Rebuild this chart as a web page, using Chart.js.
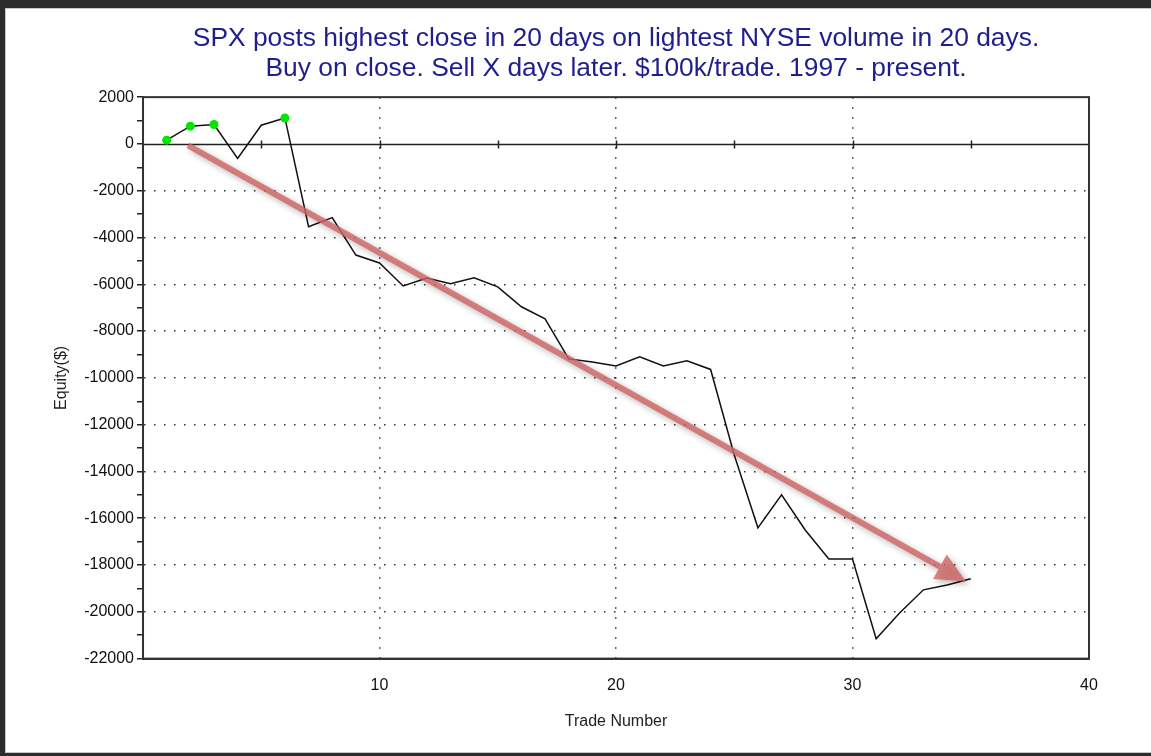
<!DOCTYPE html>
<html>
<head>
<meta charset="utf-8">
<script src="https://cdn.jsdelivr.net/npm/chart.js@4"></script>
<style>
  body { margin: 0; background: #fff; }
  #wrap { width: 1151px; height: 756px; position: relative; }
</style>
</head>
<body>
<div id="wrap"><canvas id="chart1"></canvas></div>
<script>
// trade numbers and cumulative equity ($)
const trades = [1, 2, 3, 4, 5, 6, 7, 8, 9, 10, 11, 12, 13, 14, 15, 16, 17, 18,
  19, 20, 21, 22, 23, 24, 25, 26, 27, 28, 29, 30, 31, 32, 33, 34, 35];
const equity = [160, 760, 830, -620, 800, 1110, -3540, -3150, -4750, -5090,
  -6070, -5730, -5980, -5720, -6110, -6960, -7480, -9190, -9320, -9490,
  -9100, -9490, -9270, -9640, -13300, -16410, -15000, -16500, -17740, -17740,
  -21150, -20040, -19060, -18850, -18590];
// trades marked green (new equity highs)
const newHighs = [1, 2, 3, 6];

const titleLines = [
  'SPX posts highest close in 20 days on lightest NYSE volume in 20 days.',
  'Buy on close. Sell X days later. $100k/trade. 1997 - present.'
];
const xTitle = 'Trade Number';
const yTitle = 'Equity($)';

// trend arrow, in data units [trade, equity]
const arrowFrom = [1.9, -60];
const arrowTo = [34.8, -18700];

const FONT = "'Liberation Sans', Arial, sans-serif";

// white page with dark frame round it
const pageFrame = {
  id: 'pageFrame',
  beforeDraw(chart) {
    const ctx = chart.ctx;
    ctx.save();
    ctx.fillStyle = '#fff';
    ctx.fillRect(0, 0, chart.width, chart.height);
    ctx.restore();
  },
  afterDraw(chart) {
    const ctx = chart.ctx, w = chart.width, h = chart.height;
    ctx.save();
    ctx.fillStyle = '#2c2c2c';
    ctx.fillRect(0, 0, w, 8);
    ctx.fillRect(0, 0, 5, h);
    ctx.fillRect(0, h - 3, w, 3);
    ctx.fillStyle = '#c8c8c8';
    ctx.fillRect(5, 8, w - 5, 1);
    ctx.fillRect(5, 8, 1, h - 11);
    ctx.fillRect(5, h - 4, w - 5, 1);
    ctx.restore();
  }
};

// box round the plot, and the zero line with its small ticks
const plotBox = {
  id: 'plotBox',
  beforeDatasetsDraw(chart) {
    const {ctx, chartArea: a, scales: {x, y}} = chart;
    ctx.save();
    ctx.strokeStyle = '#222';
    ctx.lineWidth = 1.5;
    const y0 = Math.round(y.getPixelForValue(0)) + 0.5;
    ctx.beginPath();
    ctx.moveTo(a.left, y0);
    ctx.lineTo(a.right, y0);
    for (let v = 5; v < x.max; v += 5) {
      const px = Math.round(x.getPixelForValue(v)) + 0.5;
      ctx.moveTo(px, y0 - 4);
      ctx.lineTo(px, y0 + 4);
    }
    ctx.stroke();
    ctx.strokeStyle = '#333';
    ctx.lineWidth = 2;
    ctx.strokeRect(a.left, a.top, a.right - a.left, a.bottom - a.top);
    ctx.restore();
  }
};

// red trend arrow with a soft shadow
const trendArrow = {
  id: 'trendArrow',
  afterDatasetsDraw(chart) {
    const {ctx, scales: {x, y}} = chart;
    const x1 = x.getPixelForValue(arrowFrom[0]), y1 = y.getPixelForValue(arrowFrom[1]);
    const x2 = x.getPixelForValue(arrowTo[0]), y2 = y.getPixelForValue(arrowTo[1]);
    const ang = Math.atan2(y2 - y1, x2 - x1);
    const headLen = 30, headW = 14;
    const bx = x2 - headLen * Math.cos(ang), by = y2 - headLen * Math.sin(ang);
    ctx.save();
    ctx.shadowColor = 'rgba(0,0,0,0.35)';
    ctx.shadowBlur = 6;
    ctx.shadowOffsetX = 3;
    ctx.shadowOffsetY = 3;
    ctx.strokeStyle = 'rgba(208,100,100,0.8)';
    ctx.fillStyle = 'rgba(208,100,100,0.8)';
    ctx.lineWidth = 6;
    ctx.beginPath();
    ctx.moveTo(x1, y1);
    ctx.lineTo(bx, by);
    ctx.stroke();
    ctx.beginPath();
    ctx.moveTo(x2, y2);
    ctx.lineTo(bx + headW * Math.sin(ang), by - headW * Math.cos(ang));
    ctx.lineTo(bx - headW * Math.sin(ang), by + headW * Math.cos(ang));
    ctx.closePath();
    ctx.fill();
    ctx.restore();
  }
};

const ctx = document.getElementById('chart1').getContext('2d');
const chart1 = new Chart(ctx, {
  type: 'line',
  data: {
    datasets: [{
      data: trades.map((t, i) => ({x: t, y: equity[i]})),
      borderColor: '#111',
      borderWidth: 1.5,
      tension: 0,
      pointRadius: c => newHighs.includes(trades[c.dataIndex]) ? 4.5 : 0,
      pointBackgroundColor: '#00e600',
      pointBorderWidth: 0
    }]
  },
  options: {
    responsive: true,
    maintainAspectRatio: false,
    animation: false,
    layout: {padding: {left: 52, right: 62, top: 24, bottom: 25}},
    scales: {
      x: {
        type: 'linear',
        min: 0,
        max: 40,
        ticks: {
          stepSize: 10,
          padding: 17,
          color: '#111',
          font: {family: FONT, size: 16},
          callback: v => v === 0 ? '' : v
        },
        grid: {
          drawTicks: false,
          lineWidth: 1.5,
          color: c => (c.tick.value > 0 && c.tick.value < 40) ? '#333' : 'rgba(0,0,0,0)'
        },
        border: {color: '#333', width: 2, dash: [1.5, 8.5]},
        title: {
          display: true,
          text: xTitle,
          color: '#222',
          font: {family: FONT, size: 16},
          padding: {top: 0, bottom: 0}
        }
      },
      y: {
        min: -22000,
        max: 2000,
        ticks: {
          stepSize: 1000,
          autoSkip: false,
          padding: 3,
          color: '#111',
          font: {family: FONT, size: 16},
          callback: v => v % 2000 === 0 ? v : ''
        },
        grid: {
          tickLength: 6,
          tickColor: '#222',
          tickWidth: 1.5,
          lineWidth: 1.5,
          color: c => {
            const v = c.tick.value;
            return (v % 2000 === 0 && v !== 0 && v > -22000 && v < 2000) ? '#333' : 'rgba(0,0,0,0)';
          }
        },
        border: {color: '#333', width: 2, dash: [1.5, 8.5]},
        title: {
          display: true,
          text: yTitle,
          color: '#222',
          font: {family: FONT, size: 16},
          padding: {top: 0, bottom: 10}
        }
      }
    },
    plugins: {
      legend: {display: false},
      tooltip: {enabled: false},
      title: {
        display: true,
        fullSize: false,
        text: titleLines,
        color: '#1e1e8e',
        font: {family: FONT, size: 26.4, weight: 'normal', lineHeight: 1.12},
        padding: {top: 0, bottom: 14}
      }
    }
  },
  plugins: [pageFrame, plotBox, trendArrow]
});
</script>
</body>
</html>
